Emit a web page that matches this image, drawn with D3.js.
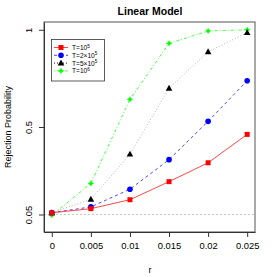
<!DOCTYPE html>
<html>
<head>
<meta charset="utf-8">
<script src="https://cdn.jsdelivr.net/npm/d3@7.9.0/dist/d3.min.js"></script>
<style>
  body { margin: 0; background: #fff; }
  svg { font-family: "Liberation Sans", Arial, sans-serif; display: block; }
</style>
</head>
<body>
<div id="chart"></div>
<script>
const rValues = [0, 0.005, 0.01, 0.015, 0.02, 0.025];
const xTickLabels = ["0", "0.005", "0.01", "0.015", "0.02", "0.025"];
const yTicks = [0.05, 0.5, 1];
const yTickLabels = ["0.05", "0.5", "1"];

const t1e5 = [0.059, 0.080, 0.126, 0.219, 0.316, 0.462];
const t2e5 = [0.059, 0.089, 0.180, 0.332, 0.529, 0.738];
const t5e5 = [0.059, 0.128, 0.360, 0.699, 0.887, 0.985];
const t1e6 = [0.046, 0.210, 0.642, 0.930, 0.994, 1.000];

const seriesNames = [
  ["T=10", "5"],
  ["T=2\u00d710", "5"],
  ["T=5\u00d710", "5"],
  ["T=10", "6"]
];

const width = 277, height = 277;
const box = {left: 44, right: 255, top: 22, bottom: 232};

const series = [
  {vals: t1e5, color: "#ff0000", line: "#ff3333", dash: null, shape: "square"},
  {vals: t2e5, color: "#0000ff", line: "#3333ff", dash: "3,3", shape: "circle"},
  {vals: t5e5, color: "#000000", line: "#aaaaaa", dash: "1,2", shape: "triangle"},
  {vals: t1e6, color: "#00ff00", line: "#33ff33", dash: "1,2,3,2", shape: "plus"}
];

const x = d3.scaleLinear().domain([-0.001, 0.026]).range([box.left, box.right]);
const y = d3.scaleLinear().domain([-0.04, 1.04]).range([box.bottom, box.top]);

const svg = d3.select("#chart").append("svg")
  .attr("width", width).attr("height", height);

// reference line at 0.05
svg.append("line")
  .attr("x1", box.left).attr("x2", box.right)
  .attr("y1", y(0.05)).attr("y2", y(0.05))
  .attr("stroke", "#c8c8c8").attr("stroke-dasharray", "2,2");

const line = d3.line().x((d, i) => x(rValues[i])).y(d => y(d));

function marker(g, shape, color, cx, cy) {
  if (shape === "square") {
    g.append("rect").attr("x", cx - 2.5).attr("y", cy - 2.5)
      .attr("width", 5).attr("height", 5).attr("fill", color);
  } else if (shape === "circle") {
    g.append("circle").attr("cx", cx).attr("cy", cy).attr("r", 2.8).attr("fill", color);
  } else if (shape === "triangle") {
    g.append("path").attr("d", `M${cx},${cy - 3.5}L${cx + 3.3},${cy + 2.4}L${cx - 3.3},${cy + 2.4}Z`)
      .attr("fill", color);
  } else {
    g.append("circle").attr("cx", cx).attr("cy", cy).attr("r", 1.8).attr("fill", color);
    g.append("path").attr("d", `M${cx - 2.8},${cy}H${cx + 2.8}M${cx},${cy - 2.8}V${cy + 2.8}`)
      .attr("stroke", color).attr("stroke-width", 1);
  }
}

// draw in reverse so red is on top
[...series].reverse().forEach(s => {
  svg.append("path")
    .attr("d", line(s.vals))
    .attr("fill", "none")
    .attr("stroke", s.line)
    .attr("stroke-width", 0.9)
    .attr("stroke-dasharray", s.dash);
});
[...series].reverse().forEach(s => {
  const g = svg.append("g");
  s.vals.forEach((v, i) => marker(g, s.shape, s.color, x(rValues[i]), y(v)));
});

// box
svg.append("rect")
  .attr("x", box.left).attr("y", box.top)
  .attr("width", box.right - box.left).attr("height", box.bottom - box.top)
  .attr("fill", "none").attr("stroke", "#555").attr("stroke-width", 1);

// x axis
const xAxis = d3.axisBottom(x).tickValues(rValues)
  .tickFormat((d, i) => xTickLabels[i]).tickSize(5).tickPadding(5).tickSizeOuter(0);
const gx = svg.append("g").attr("transform", `translate(0,${box.bottom})`).call(xAxis);
gx.select(".domain").attr("stroke", "#333");
gx.selectAll(".tick line").attr("stroke", "#333");
gx.selectAll(".tick text").attr("font-size", 9.4).attr("fill", "#000")
  .attr("font-family", "Liberation Sans, Arial, sans-serif");

// y axis
const yAxis = d3.axisLeft(y).tickValues(yTicks)
  .tickFormat((d, i) => yTickLabels[i]).tickSize(5).tickSizeOuter(0);
const gy = svg.append("g").attr("transform", `translate(${box.left},0)`).call(yAxis);
gy.select(".domain").attr("stroke", "#333");
gy.selectAll(".tick line").attr("stroke", "#333");
gy.selectAll(".tick text")
  .attr("font-size", 9.4).attr("fill", "#000")
  .attr("font-family", "Liberation Sans, Arial, sans-serif")
  .attr("x", null)
  .attr("text-anchor", "middle")
  .attr("transform", "translate(-15,0) rotate(-90)")
  .attr("dy", "0.35em");

// title and labels
svg.append("text").attr("x", 150).attr("y", 15)
  .attr("text-anchor", "middle").attr("font-size", 10.5).attr("font-weight", "bold")
  .text("Linear Model");
svg.append("text").attr("x", 150).attr("y", 273)
  .attr("text-anchor", "middle").attr("font-size", 9).text("r");
svg.append("text")
  .attr("transform", `translate(11,${(box.top + box.bottom) / 2}) rotate(-90)`)
  .attr("text-anchor", "middle").attr("font-size", 9).text("Rejection Probability");

// legend
const lg = svg.append("g");
lg.append("rect").attr("x", 51.5).attr("y", 39.5).attr("width", 53).attr("height", 41.5)
  .attr("fill", "#fff").attr("stroke", "#333").attr("stroke-width", 0.8);
series.forEach((s, i) => {
  const ly = 47.5 + i * 7.8;
  lg.append("line").attr("x1", 54).attr("x2", 68).attr("y1", ly).attr("y2", ly)
    .attr("stroke", i === 2 ? "#000" : s.line).attr("stroke-width", 0.9)
    .attr("stroke-dasharray", s.dash);
  marker(lg, s.shape, s.color, 61, ly);
  const t = lg.append("text").attr("x", 72).attr("y", ly + 2.5).attr("font-size", 6.6);
  t.append("tspan").text(seriesNames[i][0]);
  t.append("tspan").attr("dy", -2.5).attr("font-size", 4.6).text(seriesNames[i][1]);
});
</script>
</body>
</html>
